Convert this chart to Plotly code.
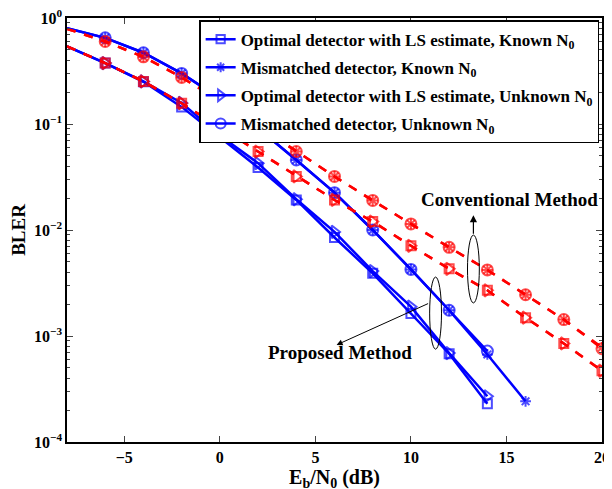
import plotly.graph_objects as go

# ---------------- data ----------------
EbN0 = [-8, -6, -4, -2, 0, 2, 4, 6, 8, 10, 12, 14, 16, 18, 20]

# Proposed method (blue, solid)
prop_opt_known_x = [-8, -6, -4, -2, 0, 2, 4, 6, 8, 10, 12, 14]
prop_opt_known = [0.54, 0.376, 0.25, 0.145, 0.075, 0.0388, 0.0192, 0.0085, 0.0039, 0.00163, 0.00068, 0.00023]

prop_mis_known_x = [-8, -6, -4, -2, 0, 2, 4, 6, 8, 10, 12, 14, 16]
prop_mis_known = [0.80, 0.65, 0.47, 0.30, 0.174, 0.091, 0.0458, 0.0225, 0.0100, 0.00425, 0.00175, 0.00067, 0.000242]

prop_opt_unknown_x = [-8, -6, -4, -2, 0, 2, 4, 6, 8, 10, 12, 14]
prop_opt_unknown = [0.54, 0.376, 0.252, 0.158, 0.078, 0.0427, 0.0195, 0.0096, 0.0041, 0.00189, 0.00069, 0.00027]

prop_mis_unknown_x = [-8, -6, -4, -2, 0, 2, 4, 6, 8, 10, 12, 14]
prop_mis_unknown = [0.80, 0.65, 0.47, 0.30, 0.174, 0.091, 0.0458, 0.0225, 0.0100, 0.00425, 0.00175, 0.00072]

# Conventional method (red, dashed)
conv_opt_known = [0.54, 0.376, 0.252, 0.157, 0.093, 0.055, 0.032, 0.0192, 0.012, 0.0071, 0.0043, 0.0027, 0.00149, 0.00085, 0.00047]
conv_mis_known = [0.79, 0.60, 0.43, 0.275, 0.166, 0.096, 0.055, 0.032, 0.019, 0.0114, 0.00686, 0.0042, 0.00245, 0.00143, 0.00078]
conv_opt_unknown = [0.54, 0.376, 0.252, 0.157, 0.093, 0.055, 0.032, 0.0192, 0.012, 0.0071, 0.0043, 0.0027, 0.00149, 0.00085, 0.00047]
conv_mis_unknown = [0.79, 0.60, 0.43, 0.275, 0.166, 0.096, 0.055, 0.032, 0.019, 0.0114, 0.00686, 0.0042, 0.00245, 0.00143, 0.00076]

legend_names = [
    "Optimal detector with LS estimate, Known N<sub>0</sub>",
    "Mismatched detector, Known N<sub>0</sub>",
    "Optimal detector with LS estimate, Unknown N<sub>0</sub>",
    "Mismatched detector, Unknown N<sub>0</sub>",
]

y_tickvals = [1e-4, 1e-3, 1e-2, 1e-1, 1]
y_ticktext = ["10<sup>−4</sup>", "10<sup>−3</sup>", "10<sup>−2</sup>", "10<sup>−1</sup>", "10<sup>0</sup>"]
x_tickvals = [-5, 0, 5, 10, 15, 20]

X_MIN, X_MAX = -8, 20
FONT = "Liberation Serif"
BLUE = "#0000FF"
RED = "#FF0000"


def bfont(size):
    return dict(family=FONT, size=size, color="black", weight="bold")


def sizes(xs, s):
    # hide the marker sitting on the left axis border
    return [0 if x == X_MIN else s for x in xs]


fig = go.Figure()

blue_series = [
    (prop_opt_known_x, prop_opt_known, "square-open", 9),
    (prop_mis_known_x, prop_mis_known, "asterisk-open", 9),
    (prop_opt_unknown_x, prop_opt_unknown, "triangle-right-open", 11),
    (prop_mis_unknown_x, prop_mis_unknown, "circle-open", 11),
]
red_series = [
    (EbN0, conv_opt_known, "square-open", 9),
    (EbN0, conv_mis_known, "asterisk-open", 9),
    (EbN0, conv_opt_unknown, "triangle-right-open", 11),
    (EbN0, conv_mis_unknown, "circle-open", 11),
]

for i, ((xs, ys, sym, s), name) in enumerate(zip(blue_series, legend_names)):
    fig.add_trace(go.Scatter(
        x=xs, y=ys, mode="lines+markers", name=name, legendgroup=f"g{i}",
        line=dict(color=BLUE, width=2.5),
        marker=dict(symbol=sym, size=sizes(xs, s), color=BLUE, line=dict(color=BLUE, width=2)),
    ))

for xs, ys, sym, s in red_series:
    fig.add_trace(go.Scatter(
        x=xs, y=ys, mode="lines+markers", showlegend=False,
        line=dict(color=RED, width=2.5, dash="dash"),
        marker=dict(symbol=sym, size=sizes(xs, s), color=RED, line=dict(color=RED, width=2)),
    ))

# the page body adds an 8px margin; the figure extends past the window edge like the original
fig.update_layout(
    width=612, height=489,
    margin=dict(l=59, r=18, t=10, b=55),
    paper_bgcolor="white", plot_bgcolor="white",
    font=bfont(16),
    showlegend=True,
    legend=dict(
        x=0.247, y=0.995, xanchor="left", yanchor="top",
        bgcolor="white", bordercolor="black", borderwidth=1.5,
        font=bfont(17),
        tracegroupgap=3, itemwidth=30,
    ),
    xaxis=dict(
        range=[X_MIN, X_MAX], tickvals=x_tickvals, automargin=False,
        ticklabeloverflow="allow",
        ticks="inside", ticklen=6, tickwidth=1, mirror="ticks",
        showline=True, linecolor="black", linewidth=1.5,
        showgrid=False, zeroline=False,
        tickfont=bfont(16),
        title=dict(text="E<sub>b</sub>/N<sub>0</sub> (dB)", standoff=5, font=bfont(20)),
    ),
    yaxis=dict(
        type="log", range=[-4, 0], tickvals=y_tickvals, ticktext=y_ticktext, automargin=False,
        ticklabeloverflow="allow",
        ticks="inside", ticklen=6, tickwidth=1, mirror="ticks",
        showline=True, linecolor="black", linewidth=1.5,
        showgrid=False, zeroline=False,
        minor=dict(ticks="inside", ticklen=3, tickwidth=1, dtick="D1", showgrid=False),
        tickfont=bfont(16),
        title=dict(text="BLER", standoff=4, font=bfont(19)),
    ),
)

# ellipses
fig.add_shape(type="circle", xref="x", yref="paper", x0=12.96, x1=13.58, y0=0.328, y1=0.488,
              line=dict(color="black", width=1))
fig.add_shape(type="circle", xref="x", yref="paper", x0=10.98, x1=11.60, y0=0.219, y1=0.389,
              line=dict(color="black", width=1))

# arrows
fig.add_annotation(x=13.27, y=0.535, xref="x", yref="paper", ax=0, ay=20,
                   showarrow=True, arrowhead=2, arrowsize=1.2, arrowwidth=1.2, arrowcolor="black", text="")
fig.add_annotation(x=6.11, y=0.229, xref="x", yref="paper", ax=93, ay=-42,
                   showarrow=True, arrowhead=2, arrowsize=1.2, arrowwidth=1, arrowcolor="black", text="")

# labels
fig.add_annotation(x=15.16, y=0.573, xref="x", yref="paper", text="Conventional Method",
                   showarrow=False, font=bfont(19))
fig.add_annotation(x=6.31, y=0.182, xref="x", yref="paper", text="Proposed Method",
                   showarrow=False, font=bfont(19))

fig.write_html("out.html")
